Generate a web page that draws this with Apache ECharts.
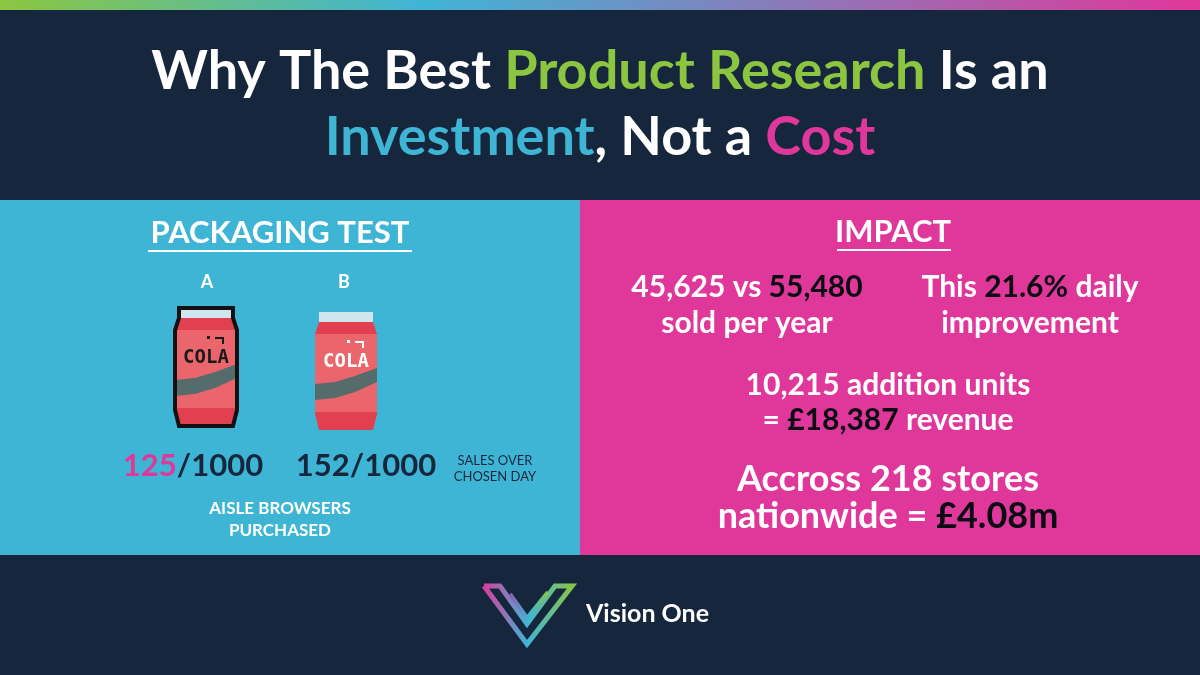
<!DOCTYPE html>
<html><head><meta charset="utf-8">
<script src="https://cdn.jsdelivr.net/npm/echarts@6/dist/echarts.min.js"></script>
<style>html,body{margin:0;padding:0;background:#16273d}#c{width:1200px;height:675px}</style>
</head><body><div id="c"></div>
<script>
const variants = ['A', 'B'];
const purchased = [125, 152];
const browsers = 1000;
const unitsPerYear = ['45,625', '55,480'];
const dailyImprovement = '21.6%';
const additionalUnits = '10,215';
const revenue = '£18,387';
const stores = 218;
const nationwide = '£4.08m';

const F = 'Lato, "Noto Sans", sans-serif';
const W = '#ffffff', D = '#16273d', P = '#e0379a', G = '#8cc640', B = '#3fb5d6', K = '#0b0b14';
const chart = echarts.init(document.getElementById('c'));

function txt(x, y, rich, parts, size, extra) {
  return Object.assign({type: 'text', x: x, y: y, style: {
    text: parts, fontFamily: F, fontSize: size, fontWeight: 'bold', fill: W,
    align: 'center', verticalAlign: 'middle', rich: rich}}, extra || {});
}
function can(x, y, outline) {
  const w = 62, h = 118, kids = [];
  kids.push({type: 'rect', shape: {x: 4, y: 0, width: w - 8, height: 10}, style: {fill: '#cfe6ef'}});
  kids.push({type: 'polygon', shape: {points: [[4,10],[w-4,10],[w,22],[w,h-16],[w-4,h],[4,h],[0,h-16],[0,22]]}, style: {fill: '#e0404f'}});
  kids.push({type: 'rect', shape: {x: 0, y: 22, width: w, height: h - 40}, style: {fill: '#ea666c'}});
  kids.push({type: 'polygon', shape: {points: [[0,72],[20,70],[40,64],[w,56],[w,70],[40,80],[20,86],[0,88]]}, style: {fill: '#566b6c'}});
  kids.push({type: 'text', x: w/2, y: 50, style: {text: 'COLA', fontFamily: '"DejaVu Sans Mono", monospace', fontWeight: 'bold', fontSize: 19, fill: outline ? '#1a1a1a' : '#ffffff', align: 'center', verticalAlign: 'middle'}});
  kids.push({type: 'polyline', shape: {points: [[40,30],[48,30],[48,36]]}, style: {stroke: outline ? '#1a1a1a' : '#fff', lineWidth: 2, fill: null}});
  kids.push({type: 'rect', shape: {x: 32, y: 28, width: 3, height: 3}, style: {fill: outline ? '#1a1a1a' : '#fff'}});
  if (outline) kids.push({type: 'polygon', shape: {points: [[4,0],[w-4,0],[w-4,10],[w,22],[w,h-16],[w-4,h],[4,h],[0,h-16],[0,22],[4,10]]}, style: {fill: null, stroke: '#111', lineWidth: 4}});
  return {type: 'group', x: x, y: y, children: kids};
}
const grad = c => new echarts.graphic.LinearGradient(0, 0, 1, 0, c);
const TS = 54;
const rich = {
  g: {fill: G, fontFamily: F, fontWeight: 'bold', fontSize: TS},
  b: {fill: B, fontFamily: F, fontWeight: 'bold', fontSize: TS},
  p: {fill: P, fontFamily: F, fontWeight: 'bold', fontSize: TS},
  w: {fill: W, fontFamily: F, fontWeight: 'bold', fontSize: TS}
};
const nr = s => ({pk: {fill: P, fontFamily: F, fontSize: s, fontWeight: 'bold'}, dk: {fill: D, fontFamily: F, fontSize: s, fontWeight: 'bold'}, k: {fill: K, fontFamily: F, fontSize: s, fontWeight: 'bold'}, w: {fill: W, fontFamily: F, fontSize: s, fontWeight: 'bold'}});

chart.setOption({
  backgroundColor: D,
  graphic: [
    {type: 'rect', shape: {x: 0, y: 0, width: 1200, height: 10}, style: {fill: grad([{offset: 0, color: '#8cc640'}, {offset: 0.35, color: '#3fb5d6'}, {offset: 1, color: '#e0379a'}])}},
    txt(600, 72, rich, '{w|Why The Best }{g|Product Research}{w| Is an}', TS),
    txt(600, 138, rich, '{b|Investment}{w|, Not a }{p|Cost}', TS),
    {type: 'rect', shape: {x: 0, y: 200, width: 580, height: 355}, style: {fill: B}},
    {type: 'rect', shape: {x: 580, y: 200, width: 620, height: 355}, style: {fill: P}},
    txt(280, 233, null, 'PACKAGING TEST', 31),
    {type: 'line', shape: {x1: 148, y1: 251, x2: 412, y2: 251}, style: {stroke: W, lineWidth: 2}},
    txt(207, 282, null, variants[0], 18),
    txt(344, 282, null, variants[1], 18),
    can(175, 308, true),
    can(315, 312, false),
    txt(193, 466, nr(31), '{pk|' + purchased[0] + '}{dk|/' + browsers + '}', 31),
    txt(366, 466, nr(31), '{dk|' + purchased[1] + '/' + browsers + '}', 31),
    txt(495, 469, null, '', 13, {style: {text: 'SALES OVER\nCHOSEN DAY', fontFamily: F, fontSize: 13, fill: D, align: 'center', verticalAlign: 'middle', lineHeight: 16}}),
    txt(280, 520, null, '', 17, {style: {text: 'AISLE BROWSERS\nPURCHASED', fontFamily: F, fontSize: 17, fontWeight: 'bold', fill: W, align: 'center', verticalAlign: 'middle', lineHeight: 22}}),
    txt(893, 232, null, 'IMPACT', 31),
    {type: 'line', shape: {x1: 837, y1: 250, x2: 951, y2: 250}, style: {stroke: W, lineWidth: 2}},
    txt(747, 287, nr(30), '{w|' + unitsPerYear[0] + ' vs }{k|' + unitsPerYear[1] + '}', 30),
    txt(747, 323, null, 'sold per year', 30),
    txt(1030, 287, nr(30), '{w|This }{k|' + dailyImprovement + '}{w| daily}', 30),
    txt(1030, 323, null, 'improvement', 30),
    txt(888, 385, null, additionalUnits + ' addition units', 30),
    txt(888, 420, nr(30), '{w|= }{k|' + revenue + '}{w| revenue}', 30),
    txt(888, 479, null, 'Accross ' + stores + ' stores', 36),
    txt(888, 516, nr(36), '{w|nationwide = }{k|' + nationwide + '}', 36),
    {type: 'polyline', shape: {points: [[484,586],[527,644],[572,586],[555,586],[527,624],[500,586],[484,586]]}, style: {fill: null, lineWidth: 5, stroke: grad([{offset: 0, color: '#e0379a'}, {offset: 0.5, color: '#3fb5d6'}, {offset: 1, color: '#8cc640'}])}},
    {type: 'polyline', shape: {points: [[510,594],[527,618],[548,592]]}, style: {fill: null, lineWidth: 4, stroke: grad([{offset: 0, color: '#a04fb0'}, {offset: 0.5, color: '#3fb5d6'}, {offset: 1, color: '#8cc640'}])}},
    {type: 'text', x: 586, y: 614, style: {text: 'Vision One', fontFamily: F, fontSize: 25, fontWeight: 'bold', fill: W, align: 'left', verticalAlign: 'middle'}}
  ]
});
</script></body></html>
